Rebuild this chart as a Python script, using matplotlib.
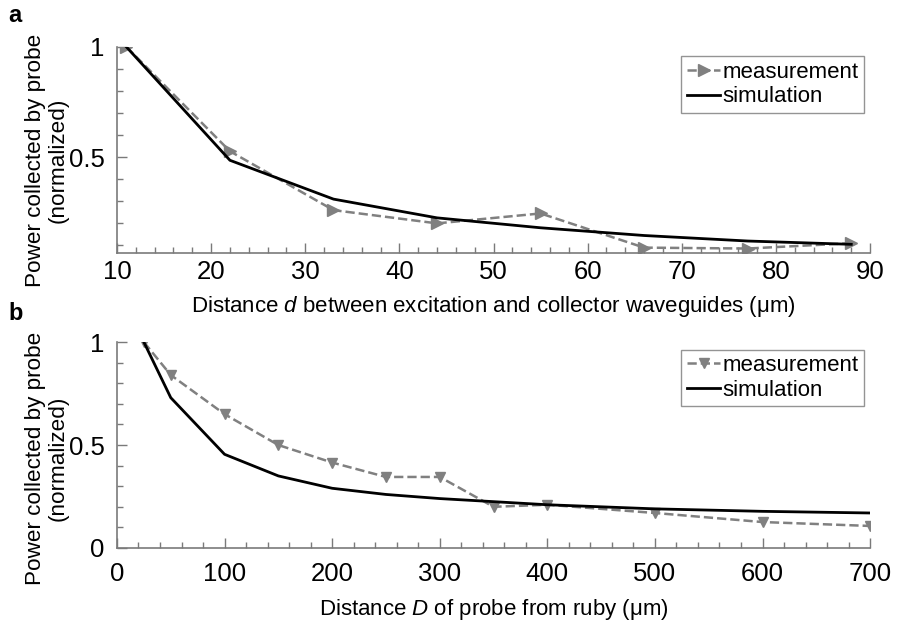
import matplotlib
matplotlib.use("Agg")
import matplotlib.pyplot as plt
from matplotlib.ticker import MultipleLocator

plt.rcParams['font.family'] = ['Liberation Sans', 'DejaVu Sans']
plt.rcParams['mathtext.fontset'] = 'custom'
plt.rcParams['mathtext.it'] = 'Liberation Sans:italic'
plt.rcParams['mathtext.rm'] = 'Liberation Sans'

# Panel a data
d_meas = [11, 22, 33, 44, 55, 66, 77, 88]
a_meas = [1.0, 0.527, 0.26, 0.20, 0.245, 0.09, 0.086, 0.11]
d_sim = [11, 22, 33, 44, 55, 66, 77, 88]
a_sim = [1.0, 0.486, 0.31, 0.225, 0.18, 0.145, 0.12, 0.105]

# Panel b data
D_meas = [25, 50, 100, 150, 200, 250, 300, 350, 400, 500, 600, 700]
b_meas = [1.0, 0.84, 0.65, 0.50, 0.415, 0.345, 0.345, 0.20, 0.21, 0.17, 0.126, 0.107]
D_sim = [25, 50, 100, 150, 200, 250, 300, 350, 400, 500, 600, 700]
b_sim = [1.0, 0.73, 0.455, 0.35, 0.29, 0.26, 0.24, 0.225, 0.21, 0.19, 0.178, 0.17]

gray = '#808080'
spine_c = '#7a7a7a'
tfs = 18.5
lfs = 16
yfs = 16.2

fig = plt.figure(figsize=(8.97, 6.22), dpi=100)
axa = fig.add_axes([0.1304, 0.593, 0.8396, 0.3316])
axb = fig.add_axes([0.1304, 0.119, 0.8396, 0.331])

def style(ax, xpad):
    for s in ['top', 'right']:
        ax.spines[s].set_visible(False)
    for s in ['left', 'bottom']:
        ax.spines[s].set_color(spine_c)
        ax.spines[s].set_linewidth(1.2)
    ax.tick_params(which='both', direction='in', color=spine_c, labelsize=tfs, width=1.0)
    ax.tick_params(which='major', length=7)
    ax.tick_params(axis='x', which='major', pad=xpad)
    ax.tick_params(axis='y', which='major', pad=9)
    ax.tick_params(which='minor', length=4)

axa.plot(d_meas, a_meas, '--', color=gray, lw=1.8, marker='>', ms=8, label='measurement')
axa.plot(d_sim, a_sim, '-', color='black', lw=2.0, label='simulation')
axa.set_xlim(10, 90)
axa.set_ylim(0.065, 1.0)
axa.set_xticks([10, 20, 30, 40, 50, 60, 70, 80, 90])
axa.xaxis.set_minor_locator(MultipleLocator(2))
axa.set_yticks([0.5, 1])
axa.set_yticklabels(['0.5', '1'])
axa.yaxis.set_minor_locator(MultipleLocator(0.1))
style(axa, 5)
axa.set_xlabel('Distance $\\mathit{d}$ between excitation and collector waveguides (\u03bcm)', fontsize=lfs, labelpad=7)
axa.set_ylabel('Power collected by probe\n(normalized)', fontsize=yfs, linespacing=1.1)
axa.yaxis.set_label_coords(-0.064, 0.45)
leg = axa.legend(loc='upper right', bbox_to_anchor=(0.998, 0.975), fontsize=lfs, frameon=True, fancybox=False,
                 handlelength=1.5, handletextpad=0.1, borderpad=0.25, labelspacing=0.15, borderaxespad=0.2)
leg.get_frame().set_edgecolor(spine_c)
leg.get_frame().set_linewidth(1.0)

axb.plot(D_meas, b_meas, '--', color=gray, lw=1.8, marker='v', ms=7, label='measurement')
axb.plot(D_sim, b_sim, '-', color='black', lw=2.0, label='simulation')
axb.set_xlim(0, 700)
axb.set_ylim(0, 1.0)
axb.set_xticks([0, 100, 200, 300, 400, 500, 600, 700])
axb.xaxis.set_minor_locator(MultipleLocator(20))
axb.set_yticks([0, 0.5, 1])
axb.set_yticklabels(['0', '0.5', '1'])
axb.yaxis.set_minor_locator(MultipleLocator(0.1))
style(axb, 10)
axb.set_xlabel('Distance $\\mathit{D}$ of probe from ruby (\u03bcm)', fontsize=lfs, labelpad=8)
axb.set_ylabel('Power collected by probe\n(normalized)', fontsize=yfs, linespacing=1.1)
axb.yaxis.set_label_coords(-0.064, 0.437)
leg = axb.legend(loc='upper right', bbox_to_anchor=(0.998, 0.985), fontsize=lfs, frameon=True, fancybox=False,
                 handlelength=1.5, handletextpad=0.1, borderpad=0.25, labelspacing=0.15, borderaxespad=0.2)
leg.get_frame().set_edgecolor(spine_c)
leg.get_frame().set_linewidth(1.0)

fig.text(0.009, 0.993, 'a', fontsize=17, fontweight='bold', va='top', ha='left')
fig.text(0.009, 0.515, 'b', fontsize=17, fontweight='bold', va='top', ha='left')

fig.savefig('out.png', dpi=100)
